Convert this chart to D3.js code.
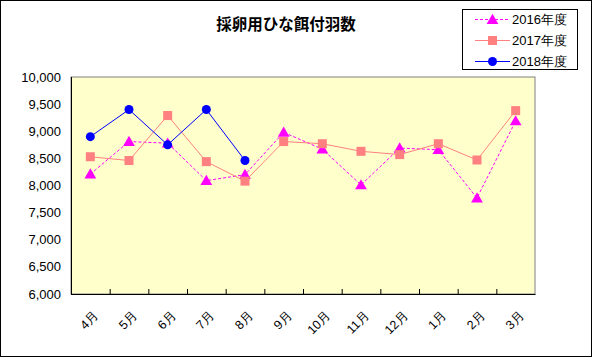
<!DOCTYPE html>
<html><head><meta charset="utf-8">
<script src="https://cdn.jsdelivr.net/npm/d3@7"></script>
<style>body{margin:0;background:#fff}svg{display:block}</style>
</head><body><svg id="c" width="592" height="357"></svg>
<script>
const categories = ["4月","5月","6月","7月","8月","9月","10月","11月","12月","1月","2月","3月"];
const seriesNames = ["2016年度","2017年度","2018年度"];
const values2016 = [8210, 8810, 8780, 8090, 8200, 8980, 8670, 8010, 8690, 8660, 7770, 9190];
const values2017 = [8530, 8460, 9290, 8440, 8080, 8810, 8770, 8630, 8570, 8770, 8470, 9380];
const values2018 = [8900, 9400, 8750, 9400, 8460, null, null, null, null, null, null, null];
const yTicks = [6000, 6500, 7000, 7500, 8000, 8500, 9000, 9500, 10000];
const title = "採卵用ひな餌付羽数";

const svg = d3.select("#c");
const font = "'Liberation Sans', Arial, sans-serif";
svg.append("rect").attr("x",0.5).attr("y",0.5).attr("width",591).attr("height",356)
  .attr("fill","#fff").attr("stroke","#000");

const L=71, R=535, T=77, B=294;
const x = d3.scaleBand().domain(categories).range([L,R]);
const y = d3.scaleLinear().domain([6000,10000]).range([B,T]);

svg.append("rect").attr("x",L).attr("y",T).attr("width",R-L).attr("height",B-T)
  .attr("fill","#FFFFCC").attr("stroke","#808080");

// axes
const xAxis = d3.axisBottom(x).tickSize(0).tickFormat("");
svg.append("g").attr("transform",`translate(0,${B})`).call(xAxis).call(g=>g.select(".domain").remove());
const tickPos = categories.map(c=>x(c)).concat([R]);
svg.append("g").selectAll("line").data(tickPos.slice(1,-1)).join("line")
  .attr("x1",d=>d+0.5).attr("x2",d=>d+0.5).attr("y1",B).attr("y2",B-5).attr("stroke","#000");
svg.append("line").attr("x1",L).attr("x2",R+0.5).attr("y1",B+0.5).attr("y2",B+0.5).attr("stroke","#000");
svg.append("line").attr("x1",L+0.5).attr("x2",L+0.5).attr("y1",T).attr("y2",B+0.5).attr("stroke","#000");

svg.append("g").selectAll("text").data(yTicks).join("text")
  .attr("x",61).attr("y",d=>y(d)).attr("dy","0.35em").attr("text-anchor","end")
  .attr("font-family",font).attr("font-size",13).text(d3.format(","));

svg.append("g").selectAll("text").data(categories).join("text")
  .attr("transform",d=>`translate(${x(d)+x.bandwidth()/2+6},${B+19}) rotate(-45)`)
  .attr("text-anchor","end").attr("dy","0.35em")
  .attr("font-family",font).attr("font-size",12.5).text(d=>d);

// title
svg.append("text").attr("x",286).attr("y",30).attr("text-anchor","middle")
  .attr("font-family","'Noto Sans CJK JP', sans-serif").attr("font-weight","bold").attr("font-size",15.5).text(title);

const cx = d=>x(d)+x.bandwidth()/2;
const series = [
  {name:seriesNames[0], vals:values2016, color:"#FF00FF", dash:"3,2", marker:"tri"},
  {name:seriesNames[1], vals:values2017, color:"#FF8080", dash:null, marker:"sq"},
  {name:seriesNames[2], vals:values2018, color:"#0000FF", dash:null, marker:"circ"}
];
function marker(g, type, color, px, py){
  if(type==="tri") g.append("path").attr("d",d3.symbol(d3.symbolTriangle,60)()).attr("transform",`translate(${px},${py+1})`).attr("fill",color);
  else if(type==="sq") g.append("rect").attr("x",px-4.5).attr("y",py-4.5).attr("width",9).attr("height",9).attr("fill",color);
  else g.append("circle").attr("cx",px).attr("cy",py).attr("r",4.5).attr("fill",color);
}
const line = d3.line().defined(d=>d[1]!=null).x(d=>cx(d[0])).y(d=>y(d[1]));
series.forEach(s=>{
  const data = categories.map((c,i)=>[c,s.vals[i]]);
  const g = svg.append("g");
  g.append("path").attr("d",line(data)).attr("fill","none").attr("stroke",s.color).attr("stroke-width",1)
    .attr("stroke-dasharray",s.dash);
  data.filter(d=>d[1]!=null).forEach(d=>marker(g,s.marker,s.color,cx(d[0]),y(d[1])));
});

// legend
const lg = svg.append("g");
lg.append("rect").attr("x",462.5).attr("y",9.5).attr("width",115).attr("height",60).attr("fill","#fff").attr("stroke","#000");
series.forEach((s,i)=>{
  const ly = 19+i*21;
  lg.append("line").attr("x1",475).attr("x2",510).attr("y1",ly+0.5).attr("y2",ly+0.5)
    .attr("stroke",s.color).attr("stroke-dasharray",s.dash);
  marker(lg,s.marker,s.color,492.5,ly+0.5);
  lg.append("text").attr("x",512).attr("y",ly).attr("dy","0.35em").attr("font-family",font)
    .attr("font-size",13).text(s.name);
});
</script></body></html>
